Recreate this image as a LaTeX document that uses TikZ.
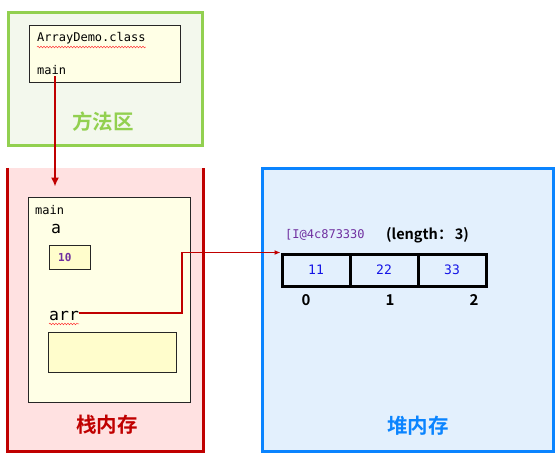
\documentclass[tikz,border=0pt]{standalone}
\usepackage{fontspec}
\setmonofont{DejaVu Sans Mono}
\newfontfamily\cjk{Noto Sans CJK SC Bold}
\usetikzlibrary{calc, arrows.meta, positioning, decorations.pathmorphing}

\definecolor{areagreen}{RGB}{146,208,80}
\definecolor{areagreenbg}{RGB}{243,248,237}
\definecolor{stackred}{RGB}{192,0,0}
\definecolor{stackbg}{RGB}{255,225,225}
\definecolor{heapblue}{RGB}{10,132,255}
\definecolor{heapbg}{RGB}{227,240,253}
\definecolor{frameyellow}{RGB}{255,255,230}
\definecolor{slotyellow}{RGB}{255,253,204}
\definecolor{addrpurple}{RGB}{112,48,160}
\definecolor{valblue}{RGB}{20,20,230}

\begin{document}
\begin{tikzpicture}[x=1pt, y=-1pt, >={Latex[length=9pt, width=8pt]}]
			\tikzstyle{area} = [line width=3pt, inner sep=0pt]
			\tikzstyle{box} = [draw=black!85, line width=0.8pt, inner sep=0pt]
			\tikzstyle{code} = [font=\ttfamily\fontsize{12}{14}\selectfont, inner sep=0pt, anchor=west]
			\tikzstyle{title} = [font=\cjk\fontsize{20.5}{22}\selectfont, inner sep=0pt]
			\tikzstyle{cell} = [draw=black, line width=3pt, minimum width=68pt, minimum height=32pt, inner sep=0pt,
				font=\ttfamily\fontsize{13}{15}\selectfont, text=valblue]
			\tikzstyle{redline} = [draw=stackred, line width=2pt]
			\tikzstyle{squiggle} = [draw=red!80, line width=0.5pt, decorate, decoration={snake, amplitude=0.8pt, segment length=3pt}]

			\useasboundingbox (0,0) rectangle (557,455);

			% method area
			\node[area, draw=areagreen, fill=areagreenbg, minimum width=194pt, minimum height=133pt] at (105,78.5) (method) {};
			\node[box, fill=frameyellow, minimum width=151pt, minimum height=57pt] at (104.5,53.5) (cls) {};
			\node[code] at (37,38) (clsname) {ArrayDemo.class};
			\node[code] at (37,70) (clsmain) {main};
			\node[title, text=areagreen] at (103,122) (methodlbl) {方法区};
			\draw[squiggle] ($(clsname.south west)+(0,3)$) -- ($(clsname.south east)+(0,3)$);

			% stack
			\node[fill=stackbg, inner sep=0pt, minimum width=195pt, minimum height=283pt] at (105.5,309.5) (stack) {};
			\draw[redline, line width=3pt] (stack.north west) -- (stack.south west) -- (stack.south east) -- (stack.north east);
			\node[box, fill=frameyellow, minimum width=162pt, minimum height=205pt] at (109,299.5) (frame) {};
			\node[code] at (35,210) (framemain) {main};
			\node[code, font=\ttfamily\fontsize{16.5}{18}\selectfont] at (51,229) (alabel) {a};
			\node[box, fill=slotyellow, minimum width=41pt, minimum height=24pt] at (69.5,257) (aval) {};
			\node[code, font=\ttfamily\bfseries\fontsize{11}{13}\selectfont, text=addrpurple] at (58,257.5) (atext) {10};
			\node[code, font=\ttfamily\fontsize{16.5}{18}\selectfont] at (49,316) (arrlabel) {arr};
			\draw[squiggle] ($(arrlabel.south west)+(0,3)$) -- ($(arrlabel.south east)+(0,3)$);
			\node[box, fill=slotyellow, minimum width=128pt, minimum height=40pt] at (112,352) (arrslot) {};
			\node[title, text=stackred] at (107,425) (stacklbl) {栈内存};

			% heap
			\node[area, draw=heapblue, fill=heapbg, minimum width=291pt, minimum height=283pt] at (407.5,309.5) (heap) {};
			\node[code, text=addrpurple] at (285,235) (addr) {[I@4c873330};
			\node[inner sep=0pt, anchor=west, font=\cjk\fontsize{14.5}{16}\selectfont] at (386,235) (len) {(length：\,3)};
			\foreach \val/\idx/\ix [count=\i from 0] in {11/0/306, 22/1/390, 33/2/474} {
				\node[cell] at (316+68*\i,270) (cell\i) {\val};
				\node[inner sep=0pt, font=\cjk\fontsize{15}{16}\selectfont] at (\ix,300) (idx\i) {\idx};
			}
			\node[title, text=heapblue] at (418,426) (heaplbl) {堆内存};

			% references
			\coordinate (callsite) at (55,76);
			\draw[redline, ->] (callsite) -- ($(callsite |- frame.north)+(0,-10)$);
			\coordinate (bend) at (182,313);
			\draw[draw=stackred, line width=1.5pt, -{Latex[length=6pt, width=5pt]}]
				(arrlabel.east |- bend) -- (bend) |- (cell0.north west);
\end{tikzpicture}
\end{document}
